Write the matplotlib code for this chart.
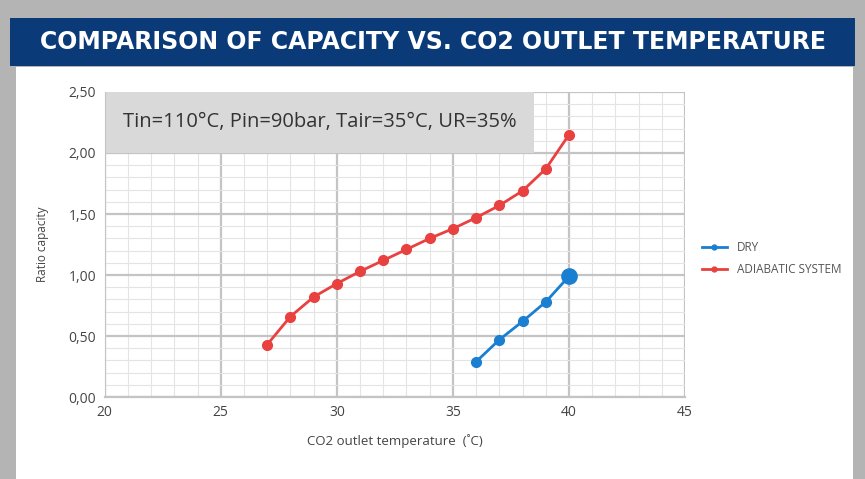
import matplotlib.pyplot as plt
from matplotlib.patches import Rectangle
import numpy as np

plt.rcParams["font.family"] = ["Open Sans", "DejaVu Sans"]

# data
temp_adiabatic = [27, 28, 29, 30, 31, 32, 33, 34, 35, 36, 37, 38, 39, 40]
ratio_adiabatic = [0.43, 0.66, 0.82, 0.93, 1.03, 1.12, 1.21, 1.30, 1.38, 1.47, 1.57, 1.69, 1.87, 2.15]
temp_dry = [36, 37, 38, 39, 40]
ratio_dry = [0.29, 0.47, 0.62, 0.78, 0.99]

x_ticks = [20, 25, 30, 35, 40, 45]
y_ticks = [0.0, 0.5, 1.0, 1.5, 2.0, 2.5]
y_labels = ["0,00", "0,50", "1,00", "1,50", "2,00", "2,50"]

title = "COMPARISON OF CAPACITY VS. CO2 OUTLET TEMPERATURE"
note = "Tin=110°C, Pin=90bar, Tair=35°C, UR=35%"

red = "#e8413f"
blue = "#1a7fd0"

fig = plt.figure(figsize=(8.65, 4.79), dpi=100)
fig.patch.set_facecolor("#b4b4b4")

# white card and blue header band (behind the axes)
fig.patches.append(Rectangle((0.018, 0.0), 0.968, 0.86, transform=fig.transFigure,
                             facecolor="white", edgecolor="none", zorder=-2))
fig.patches.append(Rectangle((0.012, 0.862), 0.976, 0.10, transform=fig.transFigure,
                             facecolor="#0a3a78", edgecolor="none", zorder=-1))
fig.text(0.5, 0.912, title, color="white", fontsize=17, fontweight="bold",
         ha="center", va="center", family=["Liberation Sans Narrow", "DejaVu Sans"])

ax = fig.add_axes([0.121, 0.171, 0.671, 0.637])
ax.set_xlim(20, 45)
ax.set_ylim(0, 2.5)

ax.set_xticks(x_ticks)
ax.set_xticklabels([str(t) for t in x_ticks])
ax.set_yticks(y_ticks)
ax.set_yticklabels(y_labels)
ax.set_xticks(np.arange(20, 46, 1), minor=True)
ax.set_yticks(np.arange(0, 2.51, 0.1), minor=True)
ax.grid(which="major", color="#c4c4c4", linewidth=1.6)
ax.grid(which="minor", color="#e4e4e4", linewidth=0.8)
ax.set_axisbelow(True)
ax.tick_params(which="both", length=0, colors="#444444", labelsize=10, pad=6)
for s in ["top", "right"]:
    ax.spines[s].set_visible(False)
ax.spines["left"].set_color("#c4c4c4")
ax.spines["bottom"].set_color("#c4c4c4")
ax.spines["bottom"].set_linewidth(1.6)

# note box in upper left
ax.add_patch(Rectangle((20, 2.0), 18.5, 0.5, facecolor="#d9d9d9", edgecolor="none", zorder=1.5))
ax.text(20.8, 2.25, note, fontsize=14.5, color="#333333", va="center", ha="left", zorder=2)

ax.plot(temp_dry, ratio_dry, color=blue, linewidth=2, marker="o", markersize=7, label="DRY", zorder=3)
ax.plot(temp_dry[-1:], ratio_dry[-1:], color=blue, marker="o", markersize=11, linestyle="none", zorder=3)
ax.plot(temp_adiabatic, ratio_adiabatic, color=red, linewidth=2, marker="o", markersize=7,
        label="ADIABATIC SYSTEM", zorder=3)

ax.set_xlabel("CO2 outlet temperature  (˚C)", fontsize=9.5, color="#444444", labelpad=10)
ax.set_ylabel("Ratio capacity", fontsize=8.5, color="#444444", labelpad=14)

leg = ax.legend(loc="center left", bbox_to_anchor=(1.01, 0.455), frameon=False, fontsize=8.5,
                handlelength=2.2, markerscale=0.5, labelspacing=0.75, labelcolor="#555555")

fig.savefig("out.png", dpi=100, facecolor=fig.get_facecolor())
